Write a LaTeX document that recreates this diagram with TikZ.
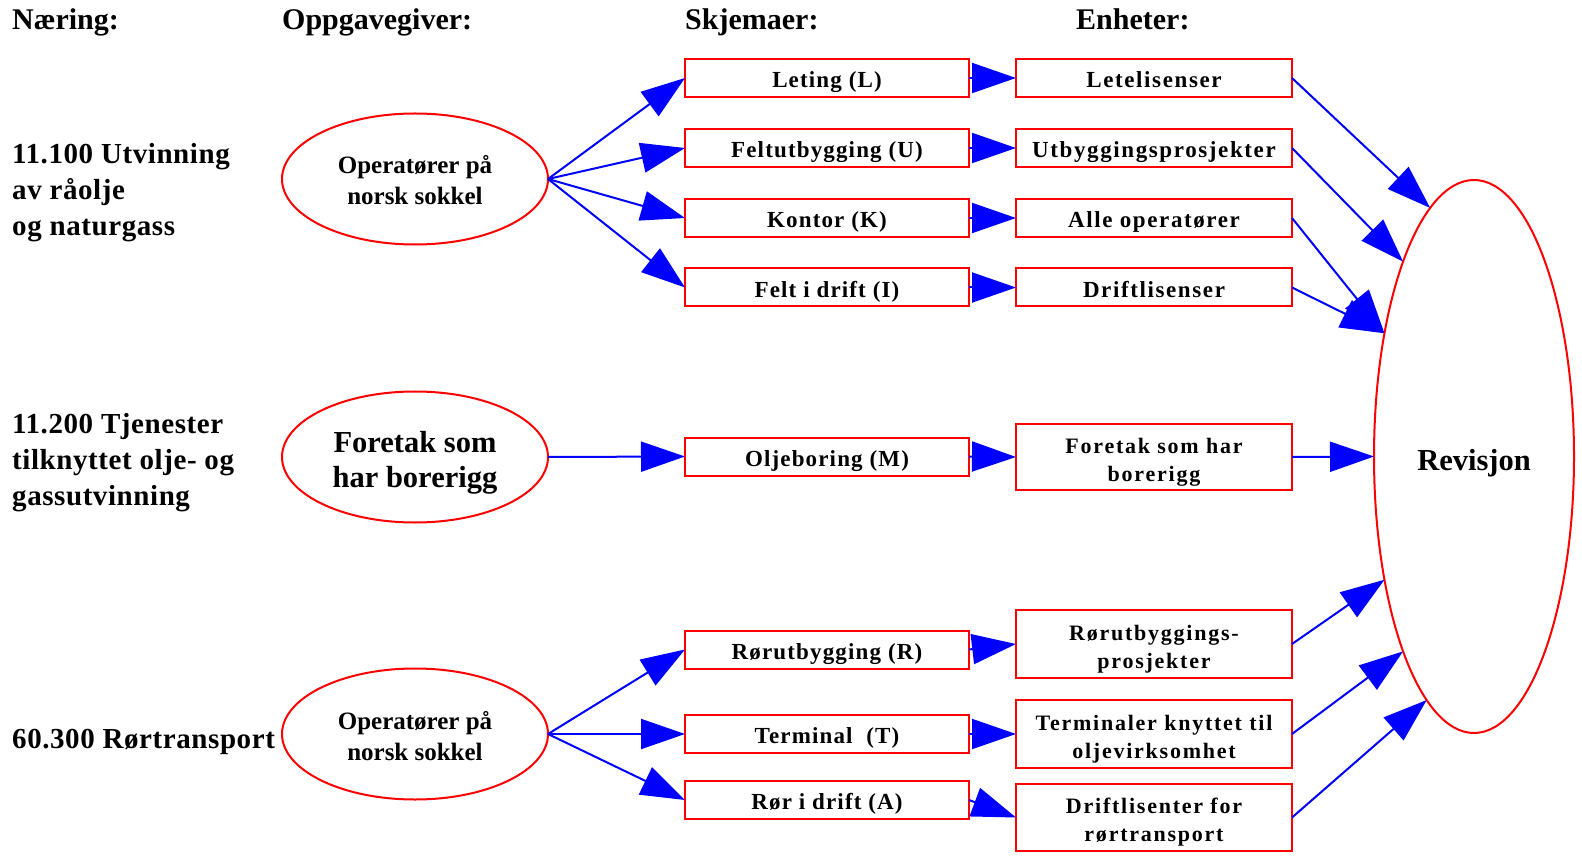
\documentclass[tikz,border=0pt]{standalone}
\usepackage{fontspec}
\setmainfont{Liberation Serif}
\newfontfamily\sectorfont{Liberation Serif}[LetterSpace=2]
\newfontfamily\formfont{Liberation Serif}[LetterSpace=5]
\newfontfamily\unitfont{Liberation Serif}[LetterSpace=7]
\newfontfamily\widefont{Liberation Serif}[LetterSpace=8]
\usetikzlibrary{shapes.geometric,arrows.meta}

% invisible strut that makes the first line taller, moving the text block down
\newcommand\topstrut[1]{\rule{0pt}{#1}}

\tikzset{
  hdr/.style={anchor=base west, inner sep=0pt, font=\bfseries\fontsize{30}{34}\selectfont},
  sector/.style={anchor=west, inner sep=0pt, align=left, font=\sectorfont\bfseries\fontsize{29}{36}\selectfont},
  source/.style={ellipse, draw=red, line width=2pt, minimum width=266pt, minimum height=131pt,
                 inner sep=0pt, outer sep=0pt, align=center},
  form/.style={rectangle, draw=red, line width=2pt, minimum width=284pt, minimum height=38pt,
               inner sep=0pt, outer sep=0pt, text height=19.5pt, text depth=0pt,
               font=\formfont\bfseries\fontsize{23}{28}\selectfont},
  unit/.style={rectangle, draw=red, line width=2pt, minimum width=276pt, minimum height=38pt,
               inner sep=0pt, outer sep=0pt, text height=19.5pt, text depth=0pt,
               font=\unitfont\bfseries\fontsize{23}{28}\selectfont},
  unitwide/.style={rectangle, draw=red, line width=2pt, minimum width=276pt,
               inner sep=0pt, outer sep=0pt, align=center,
               font=\widefont\bfseries\fontsize{22}{28}\selectfont},
  link/.style={draw=blue, line width=2pt, -{Triangle[length=44pt,width=30pt]}},
}

\begin{document}
\begin{tikzpicture}[x=1pt,y=-1pt]
  \fill[white] (0,0) rectangle (1582,858);
  \useasboundingbox (0,0) rectangle (1582,858);

  % column headings
  \node[hdr] (hNaering) at (12,29.5) {Næring:};
  \node[hdr] (hOppg)    at (282,29.5) {Oppgavegiver:};
  \node[hdr] (hSkj)     at (685,29.5) {Skjemaer:};
  \node[hdr] (hEnh)     at (1076,29.5) {Enheter:};

  % industries
  \node[sector] (n1) at (12,193) {11.100 Utvinning\\av råolje\\og naturgass};
  \node[sector] (n2) at (12,463) {11.200 Tjenester\\tilknyttet olje- og\\gassutvinning};
  \node[sector] (n3) at (12,742) {60.300 Rørtransport};

  % respondents
  \node[source, font=\bfseries\fontsize{25}{31}\selectfont] (o1) at (415,179)
       {\topstrut{20pt}Operatører på\\norsk sokkel};
  \node[source, font=\bfseries\fontsize{30.5}{35}\selectfont] (o2) at (415,457)
       {\topstrut{33pt}Foretak som\\har borerigg};
  \node[source, font=\bfseries\fontsize{25}{31}\selectfont] (o3) at (415,734)
       {\topstrut{23pt}Operatører på\\norsk sokkel};

  % forms
  \node[form] (fL) at (827,78)    {Leting (L)};
  \node[form] (fU) at (827,148)   {Feltutbygging (U)};
  \node[form] (fK) at (827,218)   {Kontor (K)};
  \node[form] (fI) at (827,287.5) {Felt i drift (I)};
  \node[form] (fM) at (827,456.5) {Oljeboring (M)};
  \node[form] (fR) at (827,649.5) {Rørutbygging (R)};
  \node[form] (fT) at (827,734)   {Terminal\ \ (T)};
  \node[form] (fA) at (827,800)   {Rør i drift (A)};

  % units
  \node[unit] (uL) at (1154,78)    {Letelisenser};
  \node[unit] (uU) at (1154,148)   {Utbyggingsprosjekter};
  \node[unit] (uK) at (1154,218)   {Alle operatører};
  \node[unit] (uI) at (1154,287.5) {Driftlisenser};
  \node[unitwide, minimum height=66pt] (uM) at (1154,457)
       {\topstrut{25.5pt}Foretak som har\\borerigg};
  \node[unitwide, minimum height=68pt] (uR) at (1154,644)
       {\topstrut{25.5pt}Rørutbyggings-\\prosjekter};
  \node[unitwide, minimum height=68pt] (uT) at (1154,734)
       {\topstrut{25.5pt}Terminaler knyttet til\\oljevirksomhet};
  \node[unitwide, minimum height=67pt] (uA) at (1154,817.5)
       {\topstrut{25.5pt}Driftlisenter for\\rørtransport};

  % revision
  \node[ellipse, draw=red, line width=2pt, minimum width=200pt, minimum height=553pt,
        inner sep=0pt, outer sep=0pt, font=\bfseries\fontsize{30.5}{34}\selectfont]
        (rev) at (1474,456.5) {\topstrut{35pt}Revisjon};

  % respondents to forms
  \foreach \f in {fL,fU,fK,fI} \draw[link] (o1.east) -- (\f.west);
  \draw[link] (o2.east) -- (fM.west);
  \foreach \f in {fR,fT,fA} \draw[link] (o3.east) -- (\f.west);

  % forms to units
  \foreach \f/\u in {fL/uL,fU/uU,fK/uK,fI/uI,fM/uM,fR/uR,fT/uT,fA/uA}
    \draw[link] (\f.east) -- (\u.west);

  % units to revision
  \draw[link] (uL.east) -- (rev.100.5);
  \draw[link] (uU.east) -- (rev.110);
  \draw[link] (uK.east) -- (rev.126);
  \draw[link] (uI.east) -- (rev.126);
  \draw[link] (uM.east) -- (rev.west);
  \draw[link] (uR.east) -- (rev.234.7);
  \draw[link] (uT.east) -- (rev.250.5);
  \draw[link] (uA.east) -- (rev.259.4);
\end{tikzpicture}
\end{document}
